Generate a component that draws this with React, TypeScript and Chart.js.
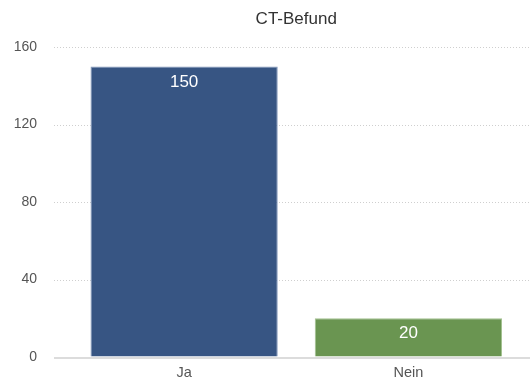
import { useEffect, useRef } from 'react';
import { Chart, registerables } from 'chart.js';

Chart.register(...registerables);

// Chart content
const chartTitle = 'CT-Befund';
const categories = ['Ja', 'Nein'];
const counts = [150, 20];
const yTicks = [0, 40, 80, 120, 160];

// Styling
const barColors = ['#375583', '#6a9551'];
const barEdgeColors = ['#8298bb', '#a3c190'];
const FONT = '"Liberation Sans", Arial, Helvetica, sans-serif';

// Dotted horizontal guides that run past the plot area, plus a solid baseline
const guideLines = {
  id: 'guideLines',
  beforeDatasetsDraw(chart: any) {
    const { ctx } = chart;
    const y = chart.scales.y;
    const startX = y.left + 54;
    ctx.save();
    for (const v of yTicks) {
      const py = Math.round(y.getPixelForValue(v));
      ctx.beginPath();
      if (v === 0) {
        ctx.setLineDash([]);
        ctx.strokeStyle = '#dcdcdc';
        ctx.lineWidth = 2;
        ctx.moveTo(startX, py + 1);
        ctx.lineTo(chart.width, py + 1);
      } else {
        ctx.setLineDash([1, 2]);
        ctx.strokeStyle = '#cfcfcf';
        ctx.lineWidth = 1;
        ctx.moveTo(startX, py + 0.5);
        ctx.lineTo(chart.width, py + 0.5);
      }
      ctx.stroke();
    }
    ctx.restore();
  },
};

// Value labels inside the top of each bar
const valueLabels = {
  id: 'valueLabels',
  afterDatasetsDraw(chart: any) {
    const { ctx } = chart;
    const meta = chart.getDatasetMeta(0);
    ctx.save();
    ctx.font = `17px ${FONT}`;
    ctx.fillStyle = '#ffffff';
    ctx.textAlign = 'center';
    ctx.textBaseline = 'middle';
    meta.data.forEach((bar: any, i: number) => {
      ctx.fillText(String(counts[i]), bar.x, bar.y + 15.5);
    });
    ctx.restore();
  },
};

export default function App() {
  const canvasRef = useRef<HTMLCanvasElement | null>(null);

  useEffect(() => {
    const canvas = canvasRef.current;
    if (!canvas) return;
    const chart = new Chart(canvas, {
      type: 'bar',
      data: {
        labels: categories,
        datasets: [
          {
            data: counts,
            backgroundColor: barColors,
            borderColor: barEdgeColors,
            borderWidth: 1,
            categoryPercentage: 1,
            barPercentage: 0.835,
          },
        ],
      },
      options: {
        responsive: false,
        animation: false,
        devicePixelRatio: 1,
        layout: { padding: { top: 0, right: 9.5, bottom: 0, left: 0 } },
        plugins: {
          legend: { display: false },
          tooltip: { enabled: false },
          title: {
            display: true,
            text: chartTitle,
            fullSize: false,
            color: '#333333',
            font: { family: FONT, size: 17, weight: 'normal' },
            padding: { top: 9.3, bottom: 17.3 },
          },
        },
        scales: {
          x: {
            offset: true,
            grid: { display: false, drawTicks: false },
            border: { display: false },
            ticks: {
              color: '#555555',
              font: { family: FONT, size: 14.5 },
              padding: 7,
            },
            afterFit(scale: any) {
              scale.height = 24;
            },
          },
          y: {
            min: 0,
            max: 160,
            // invisible tick marks keep the labels clear of the plot area
            grid: {
              display: true,
              drawOnChartArea: false,
              drawTicks: true,
              tickLength: 35,
              color: 'rgba(0,0,0,0)',
            },
            border: { display: false },
            ticks: {
              stepSize: 40,
              color: '#555555',
              font: { family: FONT, size: 14 },
              padding: 0,
            },
            afterFit(scale: any) {
              scale.width = 72;
            },
          },
        },
      },
      plugins: [guideLines, valueLabels],
    });
    return () => chart.destroy();
  }, []);

  return (
    <div style={{ position: 'fixed', left: 0, top: 0, width: 530, height: 381, background: '#ffffff' }}>
      <canvas ref={canvasRef} width={530} height={381} />
    </div>
  );
}
